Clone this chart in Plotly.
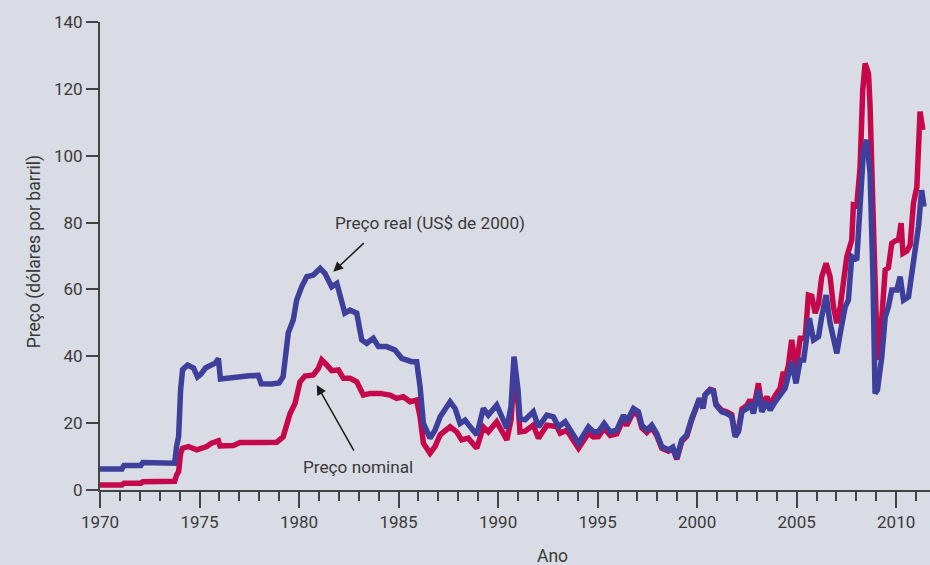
import plotly.graph_objects as go

# Real price (US$ of 2000)
real_year = [1970.0, 1971.1, 1971.2, 1972.05, 1972.15, 1973.0, 1973.75, 1973.85, 1973.95, 1974.05,
             1974.15, 1974.4, 1974.7, 1974.9, 1975.05, 1975.3, 1975.6, 1975.8, 1975.95, 1976.05,
             1976.5, 1977.0, 1977.5, 1977.95, 1978.1, 1978.6, 1979.0, 1979.2, 1979.46, 1979.71,
             1979.88, 1980.13, 1980.39, 1980.72, 1981.06, 1981.3, 1981.64, 1981.9, 1982.14, 1982.3,
             1982.56, 1982.9, 1983.15, 1983.4, 1983.73, 1983.99, 1984.4, 1984.82, 1985.16, 1985.41,
             1985.66, 1985.91, 1986.08, 1986.25, 1986.58, 1986.83, 1987.09, 1987.59, 1987.84, 1988.09,
             1988.34, 1988.6, 1988.93, 1989.26, 1989.51, 1989.93, 1990.18, 1990.44, 1990.65, 1990.8,
             1991.0, 1991.1, 1991.36, 1991.77, 1992.03, 1992.45, 1992.78, 1993.03, 1993.37, 1993.7,
             1994.04, 1994.54, 1994.79, 1995.04, 1995.33, 1995.63, 1995.96, 1996.3, 1996.46, 1996.8,
             1997.05, 1997.22, 1997.47, 1997.72, 1997.97, 1998.22, 1998.56, 1998.78, 1998.98, 1999.23,
             1999.48, 1999.73, 1999.98, 2000.12, 2000.29, 2000.4, 2000.65, 2000.82, 2000.95, 2001.24,
             2001.49, 2001.74, 2001.91, 2002.08, 2002.25, 2002.5, 2002.66, 2002.83, 2003.08, 2003.25,
             2003.5, 2003.67, 2003.92, 2004.17, 2004.42, 2004.59, 2004.75, 2004.97, 2005.18, 2005.35,
             2005.51, 2005.64, 2005.85, 2006.1, 2006.26, 2006.48, 2006.68, 2006.85, 2007.02, 2007.19,
             2007.44, 2007.6, 2007.77, 2008.02, 2008.19, 2008.36, 2008.53, 2008.69, 2008.83, 2008.94,
             2009.06, 2009.28, 2009.45, 2009.61, 2009.78, 2010.03, 2010.2, 2010.37, 2010.62, 2010.79,
             2010.95, 2011.12, 2011.28, 2011.4]
real_price = [6.3, 6.3, 7.3, 7.3, 8.2, 8.1, 8.0, 13.0, 16.0, 30.0,
              36.0, 37.4, 36.5, 33.8, 34.5, 36.5, 37.5, 38.0, 39.3, 33.2,
              33.5, 34.0, 34.2, 34.3, 31.8, 31.7, 32.0, 33.9, 47.0, 50.9,
              56.8, 60.8, 63.8, 64.3, 66.3, 64.8, 60.8, 61.8, 56.8, 52.9,
              53.8, 52.9, 44.9, 43.9, 45.4, 42.9, 42.9, 41.9, 39.4, 38.9,
              38.4, 38.4, 30.9, 19.9, 15.5, 17.9, 21.9, 26.4, 24.4, 19.9,
              20.9, 18.9, 16.5, 24.4, 22.4, 25.4, 21.9, 18.5, 25.0, 39.9,
              30.0, 21.4, 21.0, 23.4, 18.9, 22.4, 21.9, 18.9, 20.4, 16.9,
              14.0, 18.9, 17.4, 17.4, 19.9, 17.4, 17.9, 22.4, 20.4, 24.4,
              23.4, 19.4, 17.9, 19.4, 16.9, 13.0, 12.0, 12.8, 9.5, 15.0,
              16.5, 21.4, 24.9, 27.4, 24.4, 28.4, 29.9, 29.5, 25.4, 23.4,
              22.9, 21.9, 15.9, 17.5, 23.4, 24.4, 25.9, 22.9, 29.9, 23.4,
              26.4, 23.9, 26.4, 28.4, 30.4, 34.4, 38.4, 31.9, 38.9, 38.9,
              45.9, 51.4, 44.9, 45.9, 51.8, 58.3, 49.9, 44.9, 40.9, 46.9,
              54.8, 56.8, 69.8, 68.8, 84.8, 101.7, 104.7, 94.7, 64.8, 28.9,
              29.9, 39.9, 51.8, 54.8, 59.8, 59.8, 63.8, 56.8, 57.8, 64.8,
              69.8, 78.8, 89.7, 84.8]

# Nominal price
nom_year = [1970.0, 1971.1, 1971.2, 1972.05, 1972.15, 1973.75, 1973.85, 1973.95, 1974.05, 1974.15,
            1974.44, 1974.86, 1975.36, 1975.6, 1975.95, 1976.03, 1976.7, 1977.04, 1978.04, 1978.88,
            1979.2, 1979.55, 1979.8, 1980.05, 1980.3, 1980.72, 1980.97, 1981.14, 1981.39, 1981.64,
            1981.98, 1982.23, 1982.56, 1982.9, 1983.23, 1983.57, 1984.07, 1984.57, 1984.9, 1985.24,
            1985.58, 1985.91, 1986.08, 1986.25, 1986.58, 1986.83, 1987.09, 1987.59, 1987.92, 1988.17,
            1988.5, 1988.93, 1989.26, 1989.51, 1989.93, 1990.18, 1990.44, 1990.65, 1990.8, 1991.0,
            1991.1, 1991.36, 1991.77, 1992.03, 1992.45, 1992.95, 1993.12, 1993.45, 1993.7, 1994.04,
            1994.54, 1994.79, 1995.04, 1995.33, 1995.63, 1995.96, 1996.3, 1996.46, 1996.8, 1997.05,
            1997.22, 1997.47, 1997.72, 1997.97, 1998.22, 1998.56, 1998.78, 1998.98, 1999.23, 1999.48,
            1999.73, 1999.98, 2000.12, 2000.29, 2000.4, 2000.65, 2000.82, 2000.95, 2001.24, 2001.49,
            2001.74, 2001.91, 2002.08, 2002.25, 2002.5, 2002.66, 2002.83, 2003.08, 2003.25, 2003.5,
            2003.67, 2003.92, 2004.17, 2004.33, 2004.42, 2004.59, 2004.75, 2004.97, 2005.18, 2005.43,
            2005.59, 2005.76, 2005.93, 2006.1, 2006.26, 2006.48, 2006.68, 2006.85, 2007.02, 2007.19,
            2007.35, 2007.52, 2007.77, 2007.85, 2008.02, 2008.19, 2008.32, 2008.44, 2008.61, 2008.69,
            2008.83, 2008.94, 2009.06, 2009.2, 2009.36, 2009.45, 2009.61, 2009.78, 2009.95, 2010.12,
            2010.25, 2010.34, 2010.54, 2010.7, 2010.87, 2011.04, 2011.2, 2011.34]
nom_price = [1.5, 1.5, 2.0, 2.0, 2.5, 2.6, 4.5, 5.5, 11.0, 12.5,
             13.0, 12.0, 13.0, 14.0, 14.7, 13.2, 13.3, 14.2, 14.2, 14.3,
             15.9, 22.9, 25.9, 32.4, 34.1, 34.4, 36.4, 38.9, 37.4, 35.7,
             35.9, 33.4, 33.4, 32.4, 28.4, 28.9, 28.9, 28.4, 27.4, 27.9,
             26.4, 26.9, 21.9, 14.0, 11.0, 13.0, 16.5, 18.9, 17.4, 15.0,
             15.5, 12.5, 18.9, 17.4, 20.4, 17.4, 15.0, 21.0, 34.4, 26.0,
             17.4, 17.6, 19.4, 15.5, 19.4, 19.0, 17.0, 17.9, 15.5, 12.5,
             17.0, 15.9, 16.0, 18.5, 16.3, 16.8, 21.2, 19.3, 23.3, 22.3,
             18.6, 17.2, 18.7, 16.3, 12.5, 11.6, 12.4, 9.2, 14.6, 16.1,
             21.0, 24.7, 27.3, 24.4, 28.5, 30.1, 29.8, 25.7, 23.8, 23.4,
             22.5, 16.5, 18.1, 24.2, 25.3, 27.0, 24.0, 31.9, 25.0, 27.9,
             25.5, 28.2, 30.4, 35.4, 33.0, 37.5, 44.9, 36.4, 45.4, 45.4,
             58.3, 58.0, 52.9, 55.8, 63.8, 67.8, 63.8, 54.8, 49.9, 54.8,
             61.8, 69.8, 74.8, 85.3, 85.0, 96.7, 119.7, 127.6, 124.6, 114.7,
             84.8, 54.8, 38.9, 44.9, 55.8, 65.8, 66.5, 73.8, 74.5, 74.8,
             79.8, 70.8, 71.5, 73.3, 85.8, 90.7, 113.2, 107.7]

x_ticks = [1970, 1975, 1980, 1985, 1990, 1995, 2000, 2005, 2010]
y_ticks = [0, 20, 40, 60, 80, 100, 120, 140]

BG = "#d9dce4"
TXT = "#3a3a3a"
AX = "#444444"
FONT = "Roboto, Liberation Sans, sans-serif"

fig = go.Figure()
fig.add_trace(go.Scatter(x=nom_year, y=nom_price, mode="lines",
                         line=dict(color="#c5084b", width=5.5), name="Preço nominal"))
fig.add_trace(go.Scatter(x=real_year, y=real_price, mode="lines",
                         line=dict(color="#3d3f9b", width=5.5), name="Preço real"))

fig.update_layout(
    width=930, height=565,
    margin=dict(l=100, r=0, t=22, b=75),
    paper_bgcolor=BG, plot_bgcolor=BG,
    showlegend=False,
    font=dict(family=FONT, size=17, color=TXT),
    xaxis=dict(range=[1970, 2011.7], tickvals=x_ticks, ticktext=[str(v) for v in x_ticks],
               showgrid=False, zeroline=False, showline=True, linecolor=AX, linewidth=2,
               ticks="outside", ticklen=16, tickwidth=2, tickcolor=AX,
               minor=dict(ticks="outside", ticklen=9, tickwidth=1.5, tickcolor=AX,
                          tick0=1970, dtick=1, showgrid=False),
               tickfont=dict(family=FONT, size=17, color=TXT)),
    yaxis=dict(range=[0, 140], tickvals=y_ticks, showgrid=False, zeroline=False,
               showline=True, linecolor=AX, linewidth=2,
               ticks="outside", ticklen=12, tickwidth=2, tickcolor=AX,
               tickfont=dict(family=FONT, size=17, color=TXT)),
)

ann = [
    dict(x=1981.72, y=65.3, xref="x", yref="y", text="", showarrow=True,
         ax=32, ay=-30, arrowhead=2, arrowsize=1.3, arrowwidth=1.5, arrowcolor="#1a1a1a"),
    dict(x=1986.58, y=79.9, xref="x", yref="y", text="Preço real (US$ de 2000)",
         showarrow=False, font=dict(family=FONT, size=17.2, color=TXT)),
    dict(x=1980.89, y=31.4, xref="x", yref="y", text="", showarrow=True,
         ax=38, ay=67, arrowhead=2, arrowsize=1.3, arrowwidth=1.5, arrowcolor="#1a1a1a"),
    dict(x=1982.96, y=7.0, xref="x", yref="y", text="Preço nominal",
         showarrow=False, font=dict(family=FONT, size=17.2, color=TXT)),
    dict(x=-0.0942, y=(490 - 251) / 468, xref="paper", yref="paper",
         text="Preço (dólares por barril)", textangle=-90, showarrow=False,
         font=dict(family=FONT, size=17.5, color=TXT)),
    dict(x=(552 - 100) / 830, y=(490 - 544) / 468, xref="paper", yref="paper",
         yanchor="top", text="Ano", showarrow=False,
         font=dict(family=FONT, size=17.5, color=TXT)),
]
fig.update_layout(annotations=ann)

fig.write_html("out.html", config={"displayModeBar": False},
               post_script="document.body.style.margin='0';document.body.style.overflow='hidden';")
